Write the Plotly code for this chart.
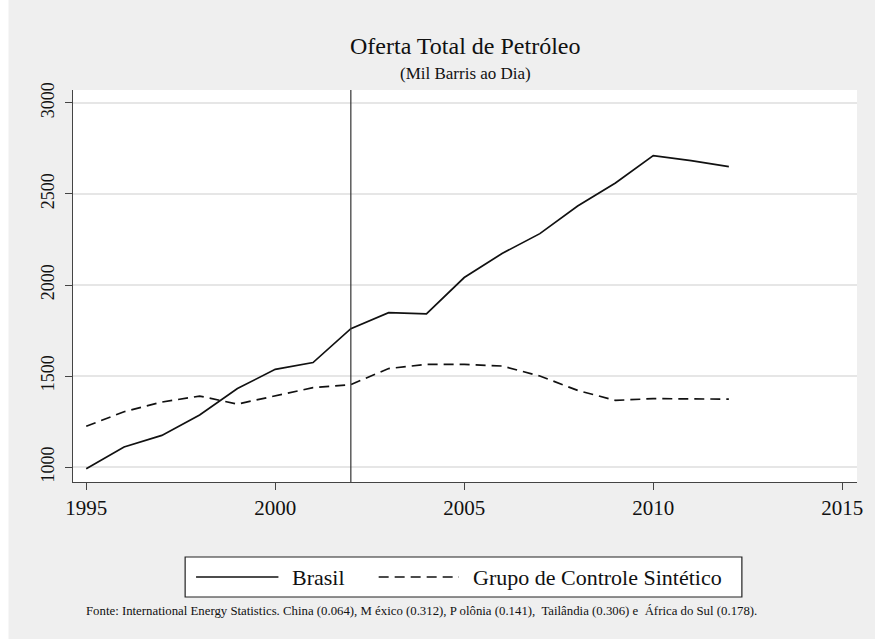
import plotly.graph_objects as go

# Oferta total de petróleo (mil barris/dia): Brasil vs. grupo de controle sintético
anos = list(range(1995, 2013))
brasil = [991, 1110, 1174, 1286, 1431, 1537, 1574, 1760, 1848, 1841,
          2041, 2173, 2282, 2434, 2560, 2711, 2683, 2650]
sintetico = [1224, 1304, 1357, 1390, 1346, 1392, 1436, 1453, 1541, 1564,
             1564, 1555, 1500, 1421, 1366, 1376, 1376, 1373]
ano_tratamento = 2002

x_ticks = [1995, 2000, 2005, 2010, 2015]
y_ticks = [1000, 1500, 2000, 2500, 3000]

W, H = 875, 639
L, R, T, B = 73, 12, 90, 157
PW, PH = W - L - R, H - T - B

def px(xp):
    return (xp - L) / PW

def py(yp):
    return (H - B - yp) / PH

SERIF = "Liberation Serif, Times New Roman, serif"
INK = "#111111"
AXIS = "#444444"

fig = go.Figure()
fig.add_trace(go.Scatter(x=anos, y=brasil, mode="lines", name="Brasil",
                         line=dict(color=INK, width=1.7), showlegend=False))
fig.add_trace(go.Scatter(x=anos, y=sintetico, mode="lines",
                         name="Grupo de Controle Sintético",
                         line=dict(color=INK, width=1.7, dash="10px,6px"),
                         showlegend=False))

fig.add_vline(x=ano_tratamento, line=dict(color="#333333", width=1.2))

shapes = [
    # white margin strips around the grey frame
    dict(type="rect", xref="paper", yref="paper", x0=-0.3, x1=1.3,
         y0=py(10), y1=1.5, fillcolor="white", line_width=0, layer="below"),
    dict(type="rect", xref="paper", yref="paper", x0=-0.3, x1=px(8),
         y0=-0.6, y1=1.5, fillcolor="white", line_width=0, layer="below"),
    # legend box and samples
    dict(type="rect", xref="paper", yref="paper", x0=px(186), x1=px(747),
         y0=py(597), y1=py(557), fillcolor="white",
         line=dict(color="#222222", width=1.2)),
    dict(type="line", xref="paper", yref="paper", x0=px(197), x1=px(280),
         y0=py(577), y1=py(577), line=dict(color=INK, width=1.7)),
    dict(type="line", xref="paper", yref="paper", x0=px(381), x1=px(462),
         y0=py(577), y1=py(577),
         line=dict(color=INK, width=1.7, dash="10px,6px")),
]

annotations = [
    dict(text="Oferta Total de Petróleo", xref="paper", yref="paper",
         x=0.5, y=py(46), xanchor="center", yanchor="middle",
         showarrow=False, font=dict(family=SERIF, size=24, color=INK)),
    dict(text="(Mil Barris ao Dia)", xref="paper", yref="paper",
         x=0.5, y=py(74), xanchor="center", yanchor="middle",
         showarrow=False, font=dict(family=SERIF, size=17, color=INK)),
    dict(text="Brasil", xref="paper", yref="paper", x=px(292), y=py(577),
         xanchor="left", yanchor="middle", showarrow=False,
         font=dict(family=SERIF, size=22, color=INK)),
    dict(text="Grupo de Controle Sintético", xref="paper", yref="paper",
         x=px(474), y=py(577), xanchor="left", yanchor="middle",
         showarrow=False, font=dict(family=SERIF, size=22, color=INK)),
    dict(text="Fonte: International Energy Statistics. China (0.064), M éxico (0.312), "
              "P olônia (0.141),  Tailândia (0.306) e  África do Sul (0.178).",
         xref="paper", yref="paper", x=px(424), y=py(611),
         xanchor="center", yanchor="middle", showarrow=False,
         font=dict(family=SERIF, size=12.8, color=INK)),
]

fig.update_layout(
    width=W, height=H,
    margin=dict(l=L, r=R, t=T, b=B, pad=0),
    paper_bgcolor="#efefef",
    plot_bgcolor="white",
    font=dict(family=SERIF, color=INK),
    shapes=shapes,
    annotations=annotations,
    xaxis=dict(range=[1994.65, 2015.39], tickvals=x_ticks,
               ticks="outside", ticklen=7, tickcolor=AXIS, tickwidth=1.2,
               showline=True, linecolor=AXIS, linewidth=1.2,
               showgrid=False, zeroline=False,
               tickfont=dict(family=SERIF, size=21, color=INK)),
    yaxis=dict(range=[918, 3071], tickvals=y_ticks, tickangle=-90,
               ticks="outside", ticklen=7, tickcolor=AXIS, tickwidth=1.2,
               showline=True, linecolor=AXIS, linewidth=1.2,
               showgrid=True, gridcolor="#e6e6e6", gridwidth=1.5,
               zeroline=False, ticklabelstandoff=4,
               tickfont=dict(family=SERIF, size=18, color=INK)),
)

fig.write_html("out.html")
